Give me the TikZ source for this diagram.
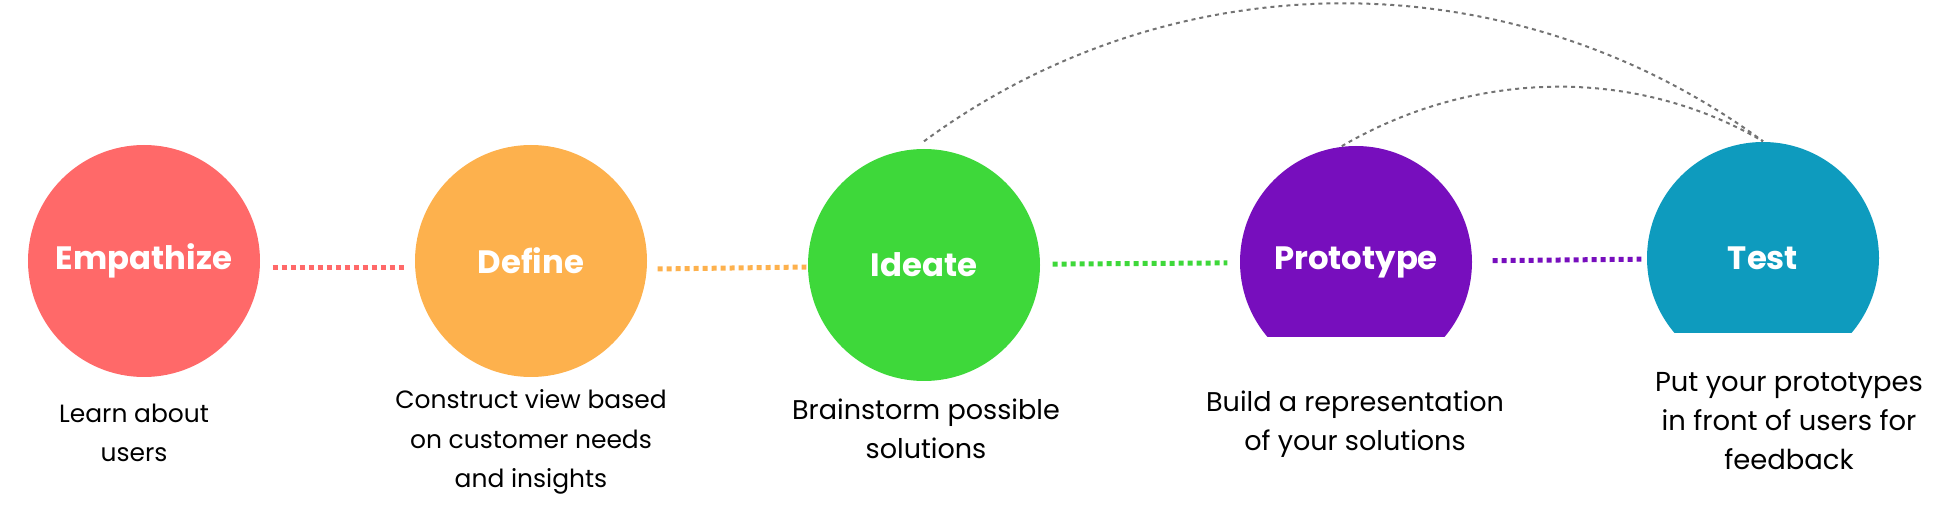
\documentclass[tikz,border=0pt]{standalone}
\usepackage{fontspec}
\setmainfont{Poppins}
\usepackage{tikz}
\usetikzlibrary{positioning}
\definecolor{empathize color}{HTML}{FF6969}
\definecolor{define color}{HTML}{FDB14D}
\definecolor{ideate color}{HTML}{3ED83A}
\definecolor{prototype color}{HTML}{770EBD}
\definecolor{test color}{HTML}{0E9BBE}
\colorlet{arc color}{black!55}
\tikzset{stage/.style={circle, minimum size=2.32cm, inner sep=0pt, text=white, font=\bfseries\fontsize{9.2}{11}\selectfont}}
\tikzset{caption/.style={align=center, inner sep=0pt, font=\fontsize{#1}{11.2}\selectfont}, caption/.default=7.1}
\tikzset{dotlink/.style={line width=0.05cm, dash pattern=on 0.05cm off 0.04cm}}
\tikzset{feedback/.style={arc color, line width=0.02cm, dash pattern=on 0.04cm off 0.04cm}}

\begin{document}
\begin{tikzpicture}
\useasboundingbox (0, 0) rectangle (19.5, 5.25);
\node[stage, fill=empathize color] (emp) at (1.44, 2.64) {Empathize};
\node[stage, fill=define color] (def) at (5.31, 2.64) {Define};
\node[stage, fill=ideate color] (ide) at (9.24, 2.60) {Ideate};
\begin{scope}
    \clip (12, 1.88) rectangle (15.2, 4);
    \node[stage, fill=prototype color] (pro) at (13.56, 2.63) {Prototype};
\end{scope}
\begin{scope}
    \clip (16, 1.92) rectangle (19.3, 4);
    \node[stage, fill=test color] (tes) at (17.63, 2.67) {Test};
\end{scope}
\draw[dotlink, empathize color] ([xshift=0.12cm, yshift=-0.07cm]emp.east) -- ([xshift=-0.07cm, yshift=-0.07cm]def.west);
\draw[dotlink, define color] ([xshift=0.10cm, yshift=-0.08cm]def.east) -- ([xshift=-0.01cm, yshift=-0.02cm]ide.west);
\draw[dotlink, ideate color, shorten <=0.12cm, shorten >=0.12cm] (ide) -- (pro);
\draw[dotlink, prototype color, shorten <=0.20cm, shorten >=0.05cm] (pro) -- (tes);
\draw[feedback] ([yshift=0.07cm]ide.north) .. controls +(2.5, 1.84) and +(-2.5, 1.84) .. (tes.north);
\draw[feedback] (pro.97) .. controls +(1.3, 0.76) and +(-1.3, 0.76) .. (tes.north);
\node[caption] (emp text) at (1.34, 0.92) {Learn about\\users};
\node[caption] (def text) at (5.31, 0.83) {Construct view based\\on customer needs\\and insights};
\node[caption=7.7] (ide text) at (9.26, 0.96) {Brainstorm possible\\solutions};
\node[caption=7.7] (pro text) at (13.55, 1.01) {Build a representation\\of your solutions};
\node[caption=7.8] (tes text) at (17.89, 1.04) {Put your prototypes\\in front of users for\\feedback};
\end{tikzpicture}
\end{document}
